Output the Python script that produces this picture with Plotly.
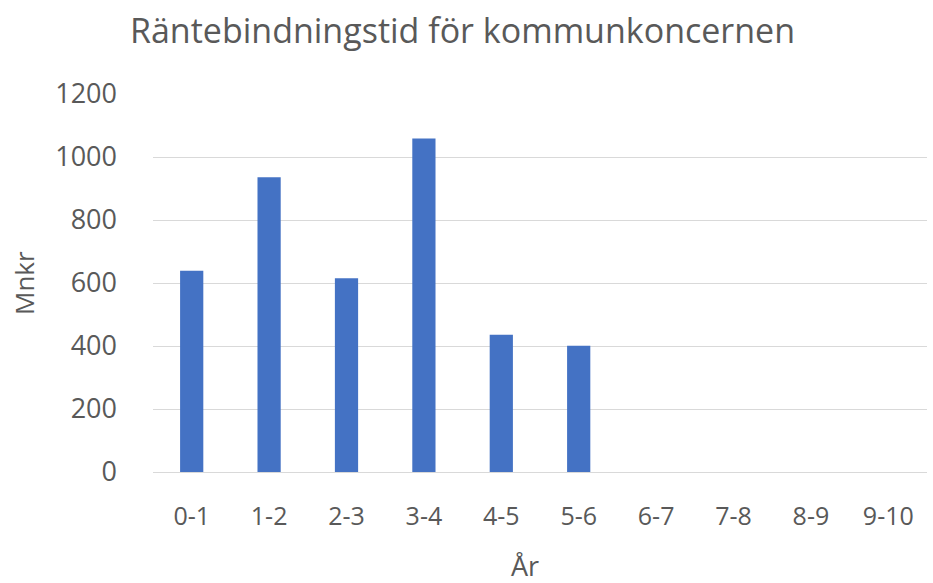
import plotly.graph_objects as go

categories = ["0-1", "1-2", "2-3", "3-4", "4-5", "5-6", "6-7", "7-8", "8-9", "9-10"]
values = [639, 936, 615, 1059, 436, 401, 0, 0, 0, 0]
y_ticks = [0, 200, 400, 600, 800, 1000, 1200]

title_text = "Räntebindningstid för kommunkoncernen"
x_title = "År"
y_title = "Mnkr"

font_family = "Open Sans, Carlito, Calibri, sans-serif"
text_color = "#595959"

W, H = 933, 583
L, R, T, B = 153, 6, 94, 111

fig = go.Figure(
    go.Bar(
        x=categories,
        y=values,
        marker=dict(color="#4472C4", line=dict(width=0)),
        hoverinfo="x+y",
    )
)

fig.update_layout(
    width=W,
    height=H,
    autosize=False,
    margin=dict(l=L, r=R, t=T, b=B, autoexpand=False),
    paper_bgcolor="white",
    plot_bgcolor="white",
    bargap=0.7,
    showlegend=False,
    font=dict(family=font_family, color=text_color, size=26),
    title=dict(
        text=title_text,
        x=462.5 / W,
        xanchor="center",
        xref="container",
        y=1 - 31 / H,
        yanchor="middle",
        yref="container",
        font=dict(size=34, color=text_color, family=font_family),
    ),
    annotations=[
        dict(
            text=y_title, xref="paper", yref="paper", x=0, y=(H - B - 283) / (H - T - B),
            xanchor="center", yanchor="middle", xshift=24 - L, textangle=-90,
            showarrow=False, font=dict(size=26, color=text_color),
        ),
        dict(
            text=x_title, xref="paper", yref="paper", x=(525 - L) / (W - L - R), y=0,
            xanchor="center", yanchor="middle", yshift=-(565 - (H - B)),
            showarrow=False, font=dict(size=27, color=text_color),
        ),
    ],
)

fig.update_xaxes(
    type="category",
    showgrid=False,
    showline=True,
    linecolor="#d9d9d9",
    linewidth=1,
    ticks="",
    ticklabelstandoff=22,
    tickfont=dict(size=25, color=text_color),
)

fig.update_yaxes(
    range=[0, 1200],
    tickvals=y_ticks,
    showgrid=True,
    gridcolor="#d9d9d9",
    gridwidth=1,
    zeroline=False,
    showline=False,
    ticks="",
    ticklabelstandoff=35,
    tickfont=dict(size=27, color=text_color),
)

fig.write_html(
    "out.html",
    config={"displayModeBar": False},
    post_script="document.body.style.margin='0';document.body.style.overflow='hidden';",
)
